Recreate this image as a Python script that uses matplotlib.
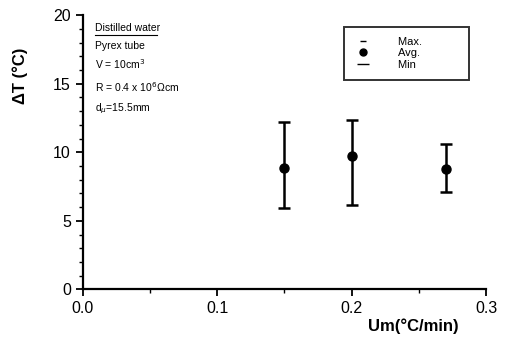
import matplotlib.pyplot as plt
from matplotlib.lines import Line2D
from matplotlib.ticker import MultipleLocator

plt.rcParams['font.family'] = ['Liberation Sans', 'DejaVu Sans']

# Data
rate = [0.15, 0.20, 0.27]          # Um (°C/min)
dt_avg = [8.87, 9.74, 8.77]
dt_max = [12.2, 12.35, 10.62]
dt_min = [5.95, 6.17, 7.12]
legend_labels = ['Max.', 'Avg.', 'Min']

err_lo = [a - m for a, m in zip(dt_avg, dt_min)]
err_hi = [m - a for a, m in zip(dt_avg, dt_max)]

fig = plt.figure(figsize=(5.1, 3.53), dpi=100)
ax = fig.add_axes([0.162, 0.18, 0.791, 0.777])

ax.errorbar(rate, dt_avg, yerr=[err_lo, err_hi], fmt='o', color='black',
            ms=6.5, elinewidth=1.8, capsize=4, capthick=1.8)

ax.set_xlim(0.0, 0.3)
ax.set_ylim(0, 20)
ax.xaxis.set_major_locator(MultipleLocator(0.1))
ax.xaxis.set_minor_locator(MultipleLocator(0.05))
ax.yaxis.set_major_locator(MultipleLocator(5))
ax.yaxis.set_minor_locator(MultipleLocator(1))
ax.xaxis.set_major_formatter(plt.FormatStrFormatter('%.1f'))
ax.tick_params(which='major', direction='out', length=5, width=1.3, labelsize=11.5)
ax.tick_params(which='minor', direction='out', length=3, width=1.0)

for side in ['top', 'right']:
    ax.spines[side].set_visible(False)
for side in ['left', 'bottom']:
    ax.spines[side].set_linewidth(1.6)

ax.set_xlabel('Um(°C/min)', fontsize=12, fontweight='bold')
ax.xaxis.set_label_coords(0.82, -0.105)
ax.set_ylabel('ΔT (°C)', fontsize=12, fontweight='bold')
ax.yaxis.set_label_coords(-0.135, 0.78)

# Sample description
ax.text(0.03, 0.953, 'Distilled water', transform=ax.transAxes, fontsize=7.5,
        va='center', ha='left')
ax.plot([0.03, 0.184], [0.928, 0.928], transform=ax.transAxes, color='black',
        lw=0.8, clip_on=False)
info = ['Pyrex tube', 'V = 10cm$^3$', 'R = 0.4 x 10$^6$Ωcm', 'd$_μ$=15.5mm']
ys = [0.887, 0.82, 0.737, 0.66]
for t, y in zip(info, ys):
    ax.text(0.03, y, t, transform=ax.transAxes, fontsize=7.5, va='center', ha='left')

handles = [
    Line2D([], [], color='black', marker='_', ls='none', ms=4),
    Line2D([], [], color='black', marker='o', ls='none', ms=5),
    Line2D([], [], color='black', marker='_', ls='none', ms=8),
]
# trailing spaces keep the wide empty area on the right of the box
leg = ax.legend(handles, [s + ' ' * 12 for s in legend_labels], loc='upper right',
                bbox_to_anchor=(0.958, 0.958), fontsize=8, frameon=True,
                fancybox=False, handletextpad=2.4, borderpad=0.9,
                labelspacing=0.15, handlelength=1.5, borderaxespad=0)
leg.get_frame().set_edgecolor('black')
leg.get_frame().set_linewidth(1.4)

fig.savefig('out.png', dpi=100)
